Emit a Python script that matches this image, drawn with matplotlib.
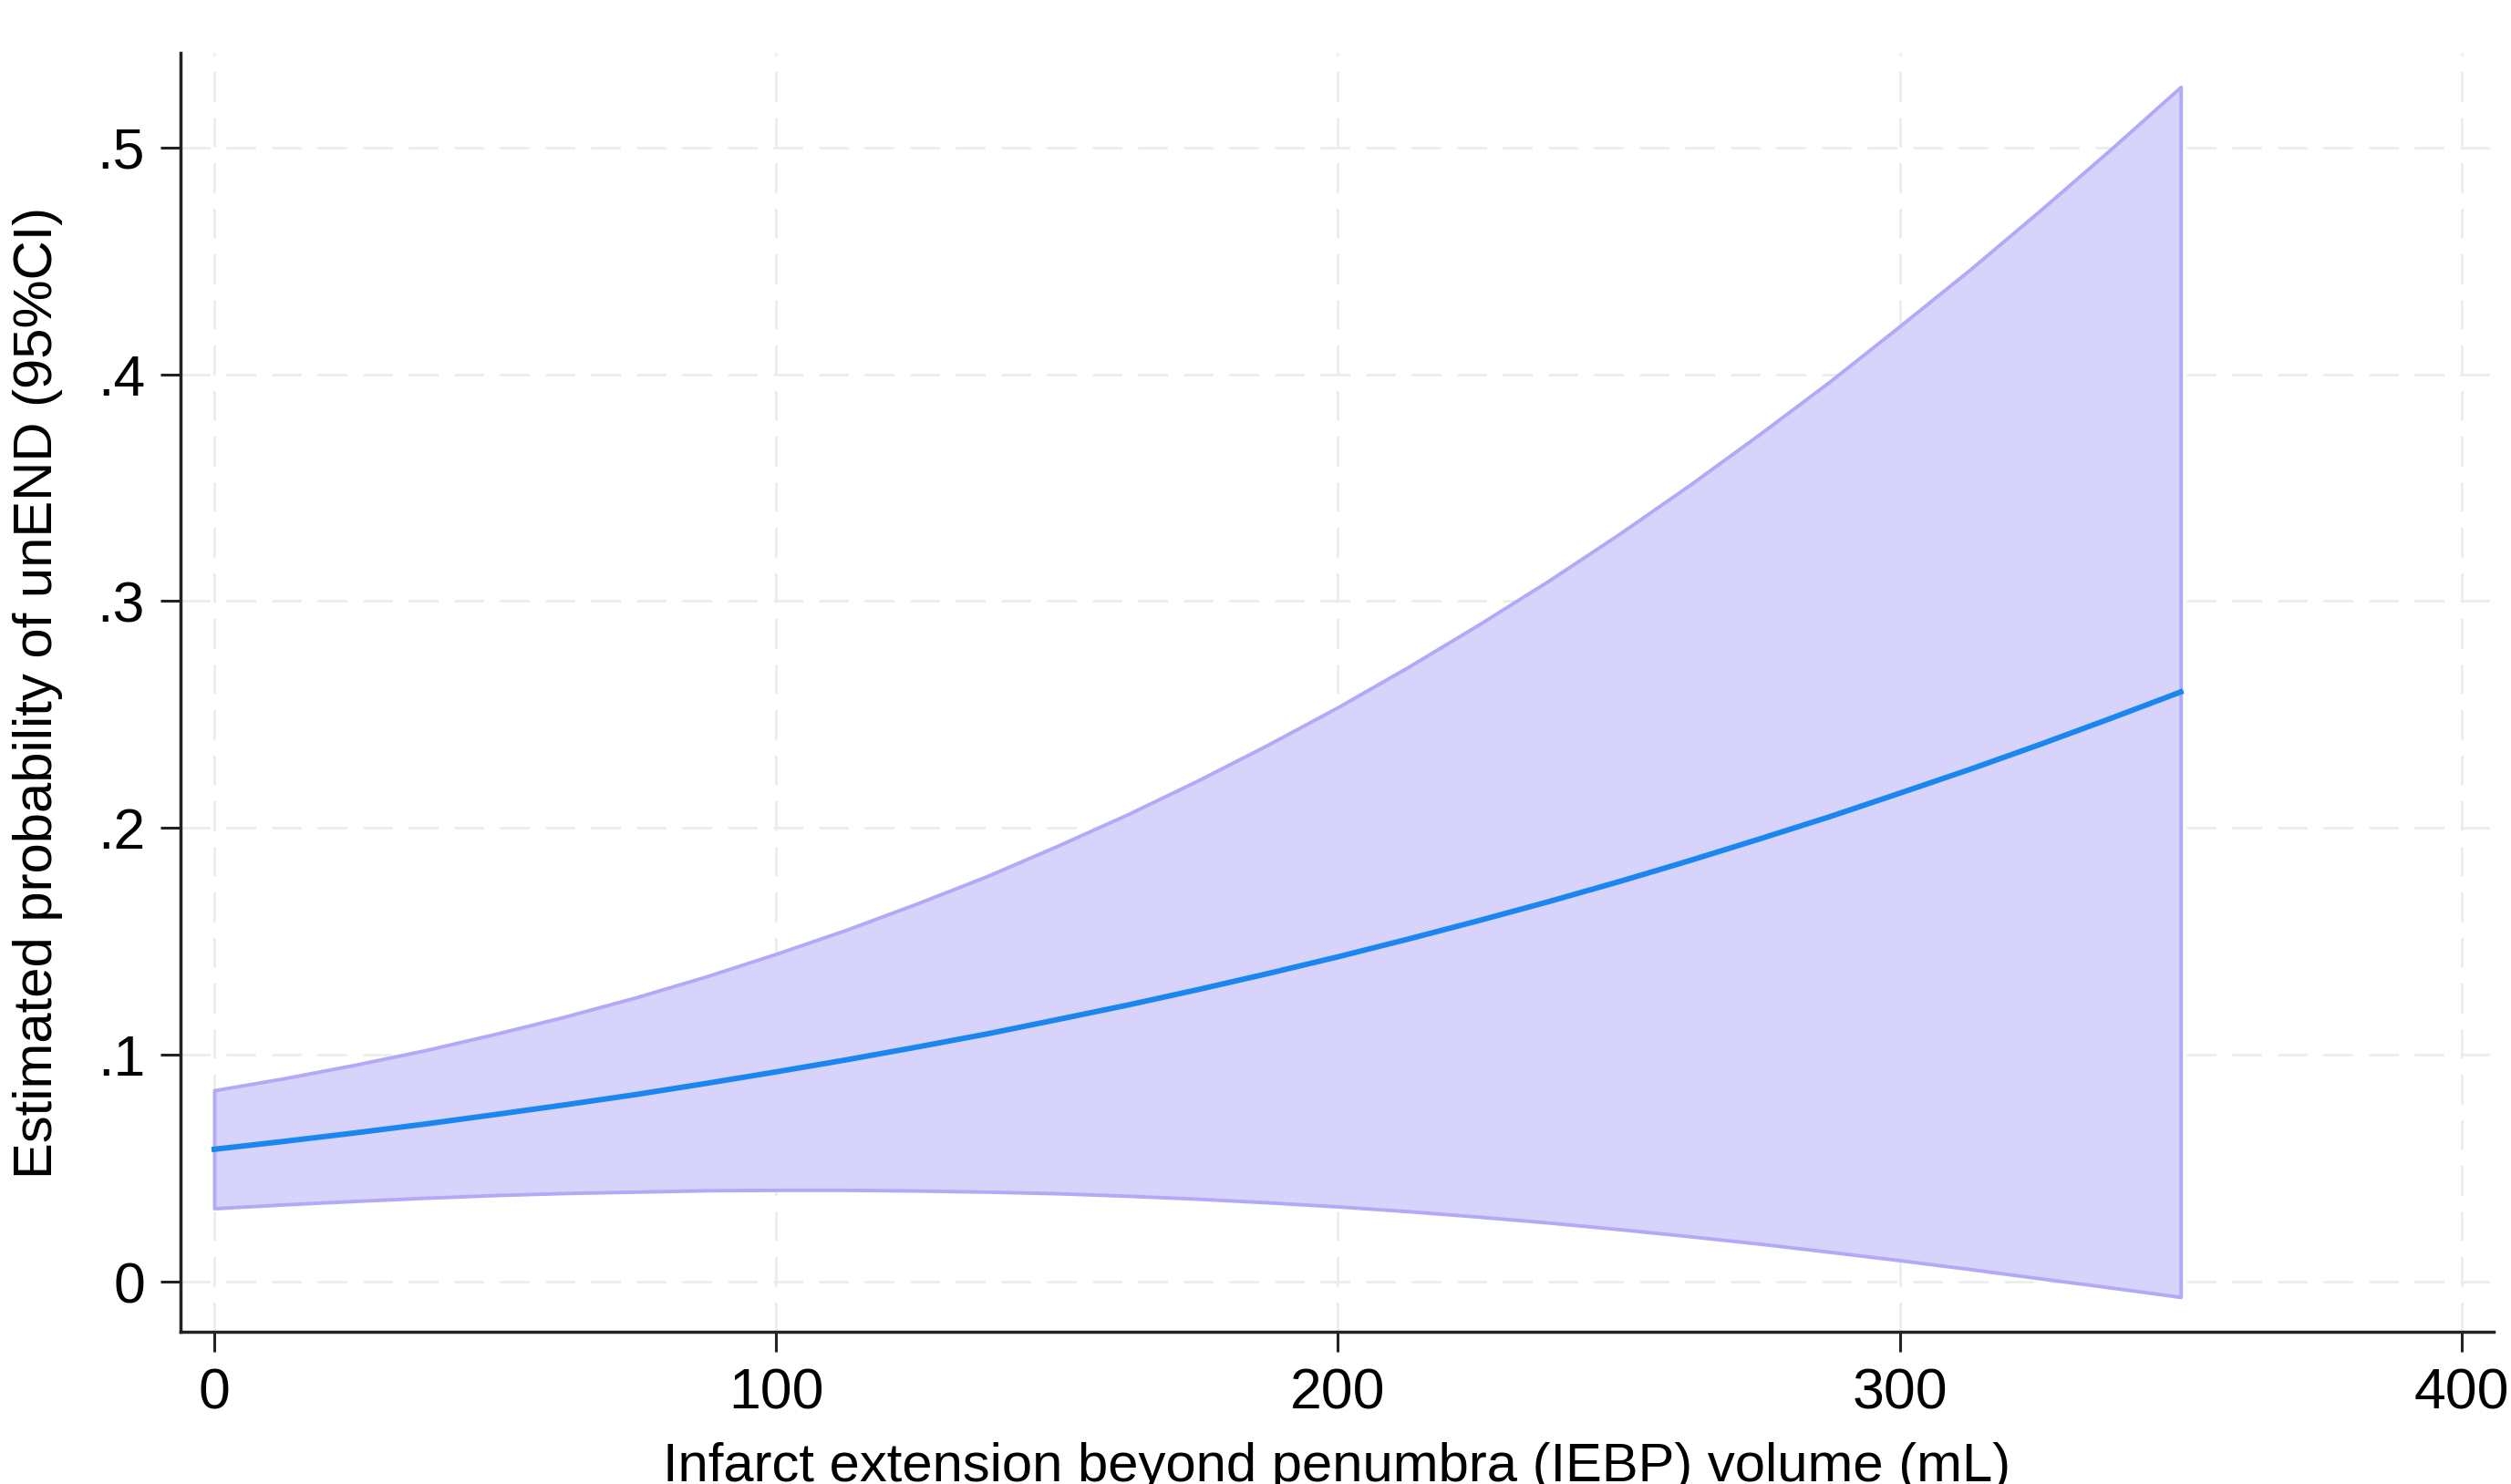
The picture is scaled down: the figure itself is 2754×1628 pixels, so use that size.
import matplotlib
matplotlib.use("Agg")
import matplotlib.pyplot as plt

plt.rcParams['font.family'] = ['Liberation Sans', 'DejaVu Sans']

# IEBP volume (mL) and predicted probability of unEND with 95% CI
volume = [0, 12.5, 25, 37.5, 50, 62.5, 75, 87.5, 100, 112.5, 125, 137.5, 150,
          162.5, 175, 187.5, 200, 212.5, 225, 237.5, 250, 262.5, 275, 287.5,
          300, 312.5, 325, 337.5, 350]
prob = [0.0585, 0.0620, 0.0657, 0.0696, 0.0738, 0.0781, 0.0826, 0.0875,
        0.0926, 0.0979, 0.1035, 0.1093, 0.1156, 0.1220, 0.1288, 0.1359,
        0.1433, 0.1511, 0.1592, 0.1676, 0.1764, 0.1856, 0.1952, 0.2050,
        0.2154, 0.2259, 0.2369, 0.2483, 0.2600]
ci_upper = [0.0845, 0.0898, 0.0957, 0.1021, 0.1093, 0.1170, 0.1254, 0.1346,
            0.1446, 0.1552, 0.1667, 0.1788, 0.1921, 0.2060, 0.2209, 0.2367,
            0.2533, 0.2710, 0.2896, 0.3090, 0.3295, 0.3510, 0.3735, 0.3967,
            0.4212, 0.4461, 0.4722, 0.4990, 0.5266]
ci_lower = [0.0325, 0.0342, 0.0357, 0.0371, 0.0383, 0.0392, 0.0398, 0.0404,
            0.0406, 0.0406, 0.0403, 0.0398, 0.0391, 0.0380, 0.0367, 0.0351,
            0.0333, 0.0312, 0.0288, 0.0262, 0.0233, 0.0202, 0.0169, 0.0133,
            0.0096, 0.0057, 0.0016, -0.0024, -0.0066]

x_ticks = [0, 100, 200, 300, 400]
y_ticks = [0, 0.1, 0.2, 0.3, 0.4, 0.5]
y_labels = ["0", ".1", ".2", ".3", ".4", ".5"]

fig = plt.figure(figsize=(27.54, 16.28), dpi=100)
ax = fig.add_axes([0.0719, 0.1026, 0.9212, 0.8618])

ax.fill_between(volume, ci_lower, ci_upper, facecolor="#d7d3fb",
                edgecolor="#b0aaf7", linewidth=2.8, zorder=2)
ax.plot(volume, prob, color="#1a86f0", linewidth=4.3, zorder=3)

ax.set_xlim(-6, 405.7)
ax.set_ylim(-0.0219, 0.5416)
ax.set_xticks(x_ticks)
ax.set_yticks(y_ticks)
ax.set_yticklabels(y_labels)

ax.grid(True, color="#ebebeb", linewidth=1.8, linestyle=(0, (13, 7)), zorder=0)
ax.set_axisbelow(True)

for side in ["top", "right"]:
    ax.spines[side].set_visible(False)
for side in ["left", "bottom"]:
    ax.spines[side].set_linewidth(2.5)
    ax.spines[side].set_color("#222222")

ax.tick_params(axis="both", direction="out", length=16, width=2.2,
               color="#222222", labelsize=45, pad=12)

ax.set_xlabel("Infarct extension beyond penumbra (IEBP) volume (mL)", fontsize=43)
ax.set_ylabel("Estimated probability of unEND (95%CI)", fontsize=43)
ax.xaxis.set_label_coords(0.5, -0.086)
ax.yaxis.set_label_coords(-0.051, 0.5)

fig.savefig("out.png", dpi=100, facecolor="white")
